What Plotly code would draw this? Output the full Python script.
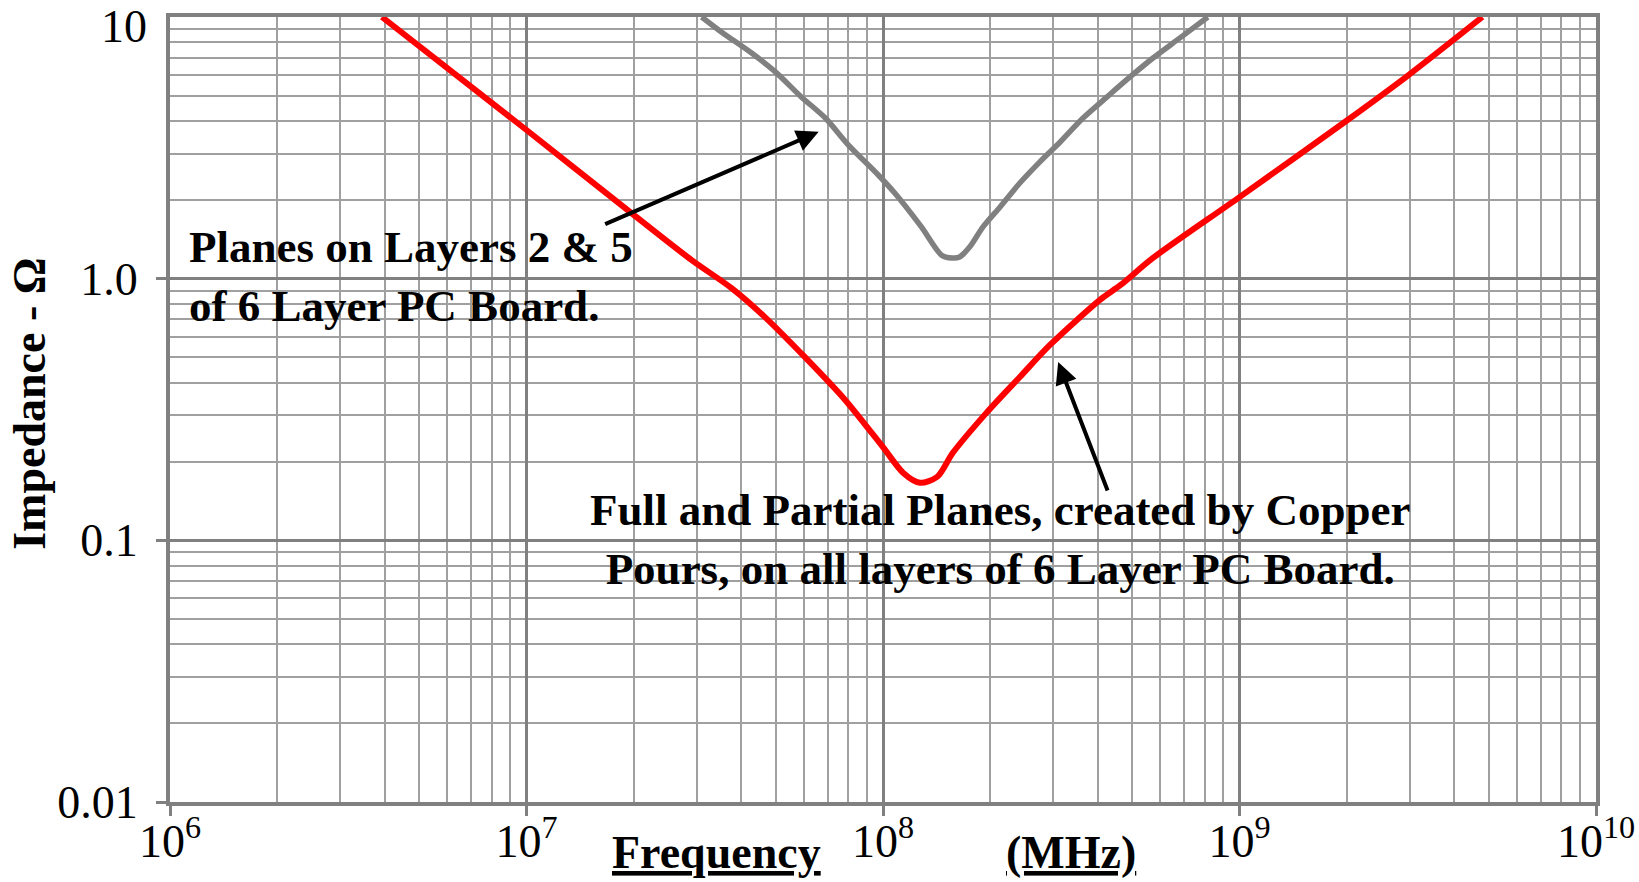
import math
import plotly.graph_objects as go

# Impedance vs frequency for two board stack-ups
gray_freq = [3.10e7, 3.52e7, 4.28e7, 4.99e7, 5.90e7, 6.89e7, 8.0e7, 9.7e7, 1.08e8,
             1.28e8, 1.46e8, 1.56e8, 1.64e8, 1.75e8, 1.91e8, 2.13e8, 2.42e8, 2.75e8,
             3.14e8, 3.64e8, 4.25e8, 4.93e8, 5.72e8, 6.81e8, 8.15e8]
gray_z = [10.0, 8.77, 7.28, 6.17, 4.95, 4.11, 3.24, 2.49, 2.12,
          1.58, 1.23, 1.20, 1.21, 1.32, 1.58, 1.88, 2.32, 2.79,
          3.33, 4.11, 4.95, 5.90, 6.97, 8.32, 10.0]

red_freq = [3.93e6, 1.0e7, 1.97e7, 2.90e7, 3.76e7, 4.68e7, 6.05e7, 7.83e7, 1.0e8,
            1.14e8, 1.27e8, 1.42e8, 1.57e8, 1.95e8, 2.42e8, 2.94e8, 4.06e8, 4.64e8,
            5.72e8, 1.0e9, 2.01e9, 2.98e9, 4.8e9]
red_z = [10.0, 3.70, 1.78, 1.18, 0.92, 0.71, 0.50, 0.344, 0.227,
         0.181, 0.166, 0.175, 0.216, 0.307, 0.421, 0.558, 0.83, 0.946,
         1.20, 2.05, 4.04, 6.0, 10.0]

x_ticks = [1e6, 1e7, 1e8, 1e9, 1e10]
x_ticktext = ["10<sup>6</sup>", "10<sup>7</sup>", "10<sup>8</sup>", "10<sup>9</sup>", "10<sup>10</sup>"]
y_ticks = [0.01, 0.1, 1.0]
y_ticktext = ["0.01", "0.1", "1.0"]
y_top_label = "10"

# arrow targets on each curve (frequency, impedance)
gray_arrow_pt = (6.6e7, 3.64)
red_arrow_pt = (3.1e8, 0.48)

x_minor = [m * 10 ** e for e in range(6, 10) for m in range(2, 10)]
y_minor = [m * 10 ** e for e in range(-2, 1) for m in range(2, 10)]

SERIF = "Liberation Serif"
GRID = "#808080"
TICK_SIZE = 46

fig = go.Figure()
fig.add_trace(go.Scatter(x=gray_freq, y=gray_z, mode="lines",
                         line=dict(color="#808080", width=5.5, shape="spline", smoothing=0.8),
                         showlegend=False))
fig.add_trace(go.Scatter(x=red_freq, y=red_z, mode="lines",
                         line=dict(color="#ff0000", width=6, shape="spline", smoothing=0.8),
                         showlegend=False))

axis_common = dict(
    type="log", showgrid=True, gridcolor=GRID, gridwidth=3,
    showline=True, linecolor=GRID, linewidth=4, mirror=True,
    ticks="outside", ticklen=10, tickwidth=3, tickcolor=GRID,
    tickfont=dict(family=SERIF, size=TICK_SIZE, color="black"),
    zeroline=False, tickmode="array", automargin=False,
)

fig.update_xaxes(range=[6, 10], tickvals=x_ticks, ticktext=x_ticktext,
                 ticklabelstandoff=-14,
                 minor=dict(tickmode="array", tickvals=x_minor, showgrid=True,
                            gridcolor="#a0a0a0", gridwidth=1.5, ticks=""),
                 **axis_common)
fig.update_yaxes(range=[-2, 1], tickvals=y_ticks, ticktext=y_ticktext,
                 ticklabelstandoff=9,
                 minor=dict(tickmode="array", tickvals=y_minor + [10.0], showgrid=True,
                            gridcolor="#a0a0a0", gridwidth=1.5, ticks=""),
                 **axis_common)

bold = dict(family=SERIF, size=45, color="black")
title_font = dict(family=SERIF, size=46, color="black")

annotations = [
    dict(text=y_top_label, xref="paper", yref="paper", x=0, y=1,
         xanchor="right", yanchor="middle", xshift=-21, yshift=-9,
         showarrow=False, font=dict(family=SERIF, size=TICK_SIZE, color="black")),
    dict(text="<b>Planes on Layers 2 &amp; 5<br>of 6 Layer PC Board.</b>",
         xref="paper", yref="paper", x=0.012, y=0.670, xanchor="left", yanchor="middle",
         align="left", showarrow=False, font=bold),
    dict(text="<b>Full and Partial Planes, created by Copper<br>Pours, on all layers of 6 Layer PC Board.</b>",
         xref="paper", yref="paper", x=0.582, y=0.334, xanchor="center", yanchor="middle",
         align="center", showarrow=False, font=bold),
    dict(text="", x=math.log10(gray_arrow_pt[0]), y=math.log10(gray_arrow_pt[1]),
         xref="x", yref="y", showarrow=True, ax=-215, ay=93,
         arrowhead=2, arrowsize=1.1, arrowwidth=4, arrowcolor="black"),
    dict(text="", x=math.log10(red_arrow_pt[0]), y=math.log10(red_arrow_pt[1]),
         xref="x", yref="y", showarrow=True, ax=50, ay=130,
         arrowhead=2, arrowsize=1.1, arrowwidth=4, arrowcolor="black"),
    dict(text="<b><u>Frequency</u></b>", xref="paper", yref="paper", x=0.383, y=-0.064,
         xanchor="center", yanchor="middle", showarrow=False, font=title_font),
    dict(text="<b><u>(MHz)</u></b>", xref="paper", yref="paper", x=0.632, y=-0.064,
         xanchor="center", yanchor="middle", showarrow=False, font=title_font),
    dict(text="<b>Impedance - Ω</b>", xref="paper", yref="paper", x=-0.099, y=0.507,
         xanchor="center", yanchor="middle", textangle=-90, showarrow=False, font=title_font),
]

fig.update_layout(
    width=1639, height=882,
    margin=dict(l=170, r=43, t=17, b=80),
    paper_bgcolor="white", plot_bgcolor="white",
    annotations=annotations,
    showlegend=False,
)

fig.write_html("out.html")
